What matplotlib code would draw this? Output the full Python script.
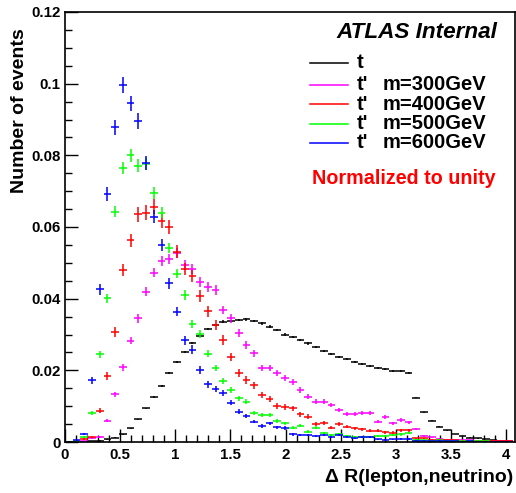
import matplotlib
matplotlib.use("Agg")
import matplotlib.pyplot as plt
import numpy as np
from matplotlib.lines import Line2D
from matplotlib.ticker import MultipleLocator, FuncFormatter

plt.rcParams["font.family"] = ["Liberation Sans", "DejaVu Sans"]
plt.rcParams["font.weight"] = "bold"

# histogram binning (delta R, 58 bins of 0.07)
bin_width = 0.07
bin_centers = np.arange(58) * bin_width + bin_width / 2

# normalized distributions
top_sm = [0.0, 0.0001, 0.0001, 0.0002, 0.0004, 0.0007, 0.0012, 0.0021, 0.0038, 0.0063,
          0.0094, 0.0126, 0.0157, 0.0192, 0.0224, 0.0250, 0.0277, 0.0297, 0.0316, 0.0326,
          0.0336, 0.0338, 0.0340, 0.0342, 0.0338, 0.0331, 0.0322, 0.0313, 0.0300, 0.0294,
          0.0285, 0.0275, 0.0266, 0.0255, 0.0246, 0.0238, 0.0231, 0.0223, 0.0218, 0.0212,
          0.0207, 0.0203, 0.0199, 0.0198, 0.0192, 0.0124, 0.0083, 0.0059, 0.0043, 0.0033,
          0.0022, 0.0017, 0.0012, 0.0010, 0.0008, 0.0006, 0.0004, 0.0003]
tprime_300 = [0.0, 0.0, 0.0003, 0.0010, 0.0014, 0.0060, 0.0133, 0.0208, 0.0283, 0.0345,
              0.0419, 0.0473, 0.0505, 0.0510, 0.0528, 0.0494, 0.0482, 0.0446, 0.0433, 0.0424,
              0.0368, 0.0345, 0.0303, 0.0271, 0.0247, 0.0207, 0.0207, 0.0192, 0.0179, 0.0168,
              0.0145, 0.0126, 0.0112, 0.0112, 0.0103, 0.0089, 0.0077, 0.0077, 0.0080, 0.0080,
              0.0057, 0.0069, 0.0052, 0.0061, 0.0055, 0.0036, 0.0017, 0.0013, 0.0008, 0.0006,
              0.0006, 0.0005, 0.0005, 0.0004, 0.0004, 0.0003, 0.0003, 0.0002]
tprime_400 = [0.0, 0.0, 0.0008, 0.0015, 0.0087, 0.0184, 0.0308, 0.0480, 0.0563, 0.0635,
              0.0640, 0.0657, 0.0617, 0.0601, 0.0531, 0.0483, 0.0464, 0.0407, 0.0365, 0.0327,
              0.0284, 0.0237, 0.0192, 0.0173, 0.0158, 0.0131, 0.0120, 0.0100, 0.0097, 0.0094,
              0.0078, 0.0071, 0.0050, 0.0054, 0.0040, 0.0049, 0.0043, 0.0038, 0.0035, 0.0031,
              0.0031, 0.0027, 0.0026, 0.0033, 0.0033, 0.0010, 0.0010, 0.0006, 0.0006, 0.0005,
              0.0005, 0.0004, 0.0004, 0.0003, 0.0003, 0.0002, 0.0002, 0.0002]
tprime_500 = [0.0, 0.0002, 0.0015, 0.0080, 0.0245, 0.0401, 0.0643, 0.0765, 0.0800, 0.0771,
              0.0776, 0.0695, 0.0640, 0.0542, 0.0470, 0.0410, 0.0329, 0.0301, 0.0246, 0.0207,
              0.0170, 0.0145, 0.0122, 0.0112, 0.0082, 0.0075, 0.0075, 0.0059, 0.0052, 0.0040,
              0.0045, 0.0029, 0.0040, 0.0026, 0.0020, 0.0022, 0.0017, 0.0015, 0.0015, 0.0015,
              0.0016, 0.0017, 0.0020, 0.0021, 0.0025, 0.0006, 0.0005, 0.0004, 0.0005, 0.0003,
              0.0003, 0.0002, 0.0003, 0.0002, 0.0002, 0.0001, 0.0001, 0.0001]
tprime_600 = [0.0, 0.0005, 0.0022, 0.0172, 0.0426, 0.0692, 0.0878, 0.0996, 0.0945, 0.0896,
              0.0778, 0.0629, 0.0551, 0.0443, 0.0364, 0.0284, 0.0258, 0.0201, 0.0161, 0.0147,
              0.0138, 0.0110, 0.0085, 0.0072, 0.0057, 0.0045, 0.0052, 0.0041, 0.0039, 0.0021,
              0.0020, 0.0020, 0.0017, 0.0020, 0.0013, 0.0020, 0.0015, 0.0010, 0.0013, 0.0015,
              0.0007, 0.0006, 0.0007, 0.0008, 0.0008, 0.0003, 0.0003, 0.0002, 0.0003, 0.0002,
              0.0002, 0.0001, 0.0002, 0.0001, 0.0001, 0.0001, 0.0001, 0.0001]

# approx. number of entries per sample (sets the size of the stat. error bars)
n_entries = {"t": 300000, "300": 25000, "400": 16000, "500": 25000, "600": 20000}

series = [
    ("t", top_sm, "black", "t", ""),
    ("300", tprime_300, "#ff00ff", "t'", "m=300GeV"),
    ("400", tprime_400, "#ff0000", "t'", "m=400GeV"),
    ("500", tprime_500, "#00ff00", "t'", "m=500GeV"),
    ("600", tprime_600, "#0000ff", "t'", "m=600GeV"),
]

W, H = 516, 493
fig = plt.figure(figsize=(W / 100, H / 100), dpi=100)
ax = fig.add_axes([65 / W, 1 - 442 / H, (515 - 65) / W, (442 - 12) / H])


def fpos(x, y):
    # pixel position -> figure fraction
    return x / W, 1 - y / H


for key, vals, color, _, _ in series:
    vals = np.array(vals)
    yerr = np.sqrt(vals / n_entries[key])
    ax.errorbar(bin_centers, vals, xerr=bin_width / 2, yerr=yerr, fmt="none",
                ecolor=color, elinewidth=1.1, capsize=0)

ax.set_xlim(0, 4.08)
ax.set_ylim(0, 0.12)
ax.xaxis.set_major_locator(MultipleLocator(0.5))
ax.xaxis.set_minor_locator(MultipleLocator(0.1))
ax.yaxis.set_major_locator(MultipleLocator(0.02))
ax.yaxis.set_minor_locator(MultipleLocator(0.005))
fmt = FuncFormatter(lambda v, p: "%g" % round(v, 4))
ax.xaxis.set_major_formatter(fmt)
ax.yaxis.set_major_formatter(fmt)
ax.tick_params(which="both", direction="in", top=False, right=False, labelsize=10.8)
ax.tick_params(which="major", length=9.5, width=1.0)
ax.tick_params(which="minor", length=5, width=1.0)
ax.tick_params(axis="y", pad=3)
ax.tick_params(axis="x", pad=4)
for s in ax.spines.values():
    s.set_linewidth(1.2)

fig.text(*fpos(20, 28), "Number of events", rotation=90, ha="center", va="top",
         fontsize=14, fontweight="bold")
fig.text(*fpos(513, 478), "\u0394 R(lepton,neutrino)", ha="right", va="center",
         fontsize=14, fontweight="bold")

fig.text(*fpos(336, 33), "ATLAS Internal", ha="left", va="center",
         fontsize=16.2, fontweight="bold", style="italic")

legend_y = [63, 85, 104, 124, 143]
for (key, vals, color, lab1, lab2), ly in zip(series, legend_y):
    x0, y0 = fpos(310, ly)
    x1, _ = fpos(348, ly)
    fig.add_artist(Line2D([x0, x1], [y0, y0], color=color, lw=1.1,
                          transform=fig.transFigure))
    fig.text(*fpos(357, ly), lab1, ha="left", va="center", fontsize=14.5,
             fontweight="bold")
    if lab2:
        fig.text(*fpos(383, ly), lab2, ha="left", va="center", fontsize=14.5,
                 fontweight="bold")

fig.text(*fpos(312, 179), "Normalized to unity", ha="left", va="center",
         fontsize=14.2, fontweight="bold", color="#ff0000")

fig.savefig("out.png", dpi=100)
